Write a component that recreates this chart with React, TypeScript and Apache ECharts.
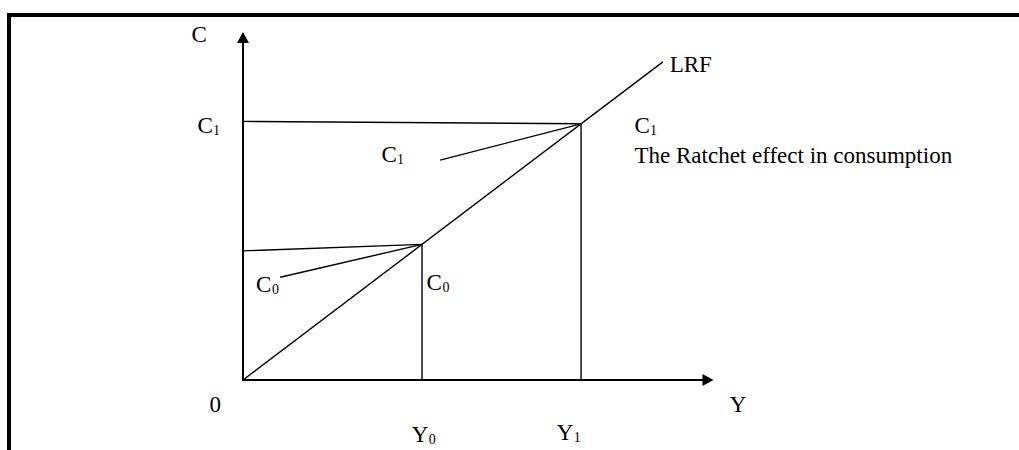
import React, { useEffect, useRef } from "react";
import * as echarts from "echarts";

// Key levels (data units of the diagram)
const incomeLevels = [3.85, 7.27]; // Y0, Y1
const consumptionLevels = [3.96, 7.48]; // C0, C1 on the LRF
const ratchetStartLevels = [3.77, 7.55]; // where the ratchet lines meet the C axis
const shortRunStarts = [
  [0.8, 3.0],
  [4.24, 6.42],
]; // left ends of the short-run C0, C1 lines
const lrfEnd = [9.03, 9.29];

const FONT = '"Liberation Serif", "Times New Roman", serif';

type Label = { main: string; sub?: string; x: number; y: number; subDx?: number };

const labels: Label[] = [
  { main: "C", x: 191.5, y: 34.4 },
  { main: "C", sub: "1", x: 197.5, y: 125.4, subDx: 15.5 },
  { main: "C", sub: "0", x: 256, y: 284.4, subDx: 16 },
  { main: "C", sub: "0", x: 426.5, y: 282.4, subDx: 16 },
  { main: "C", sub: "1", x: 381.5, y: 154.4, subDx: 15.5 },
  { main: "C", sub: "1", x: 634.5, y: 125.4, subDx: 15.5 },
  { main: "The Ratchet effect in consumption", x: 634.5, y: 155.4 },
  { main: "LRF", x: 669.7, y: 64.4 },
  { main: "0", x: 209.5, y: 404.4 },
  { main: "Y", x: 729.8, y: 404.4 },
  { main: "Y", sub: "0", x: 411.8, y: 434.4, subDx: 17 },
  { main: "Y", sub: "1", x: 556.8, y: 432.4, subDx: 17 },
];

function seg(a: number[], b: number[]) {
  return [a, b];
}

export default function App() {
  const ref = useRef<HTMLDivElement>(null);
  useEffect(() => {
    if (!ref.current) return;
    const chart = echarts.init(ref.current, undefined, { renderer: "svg" });
    const [Y0, Y1] = incomeLevels;
    const [C0, C1] = consumptionLevels;
    const segments = [
      seg([0, 0], lrfEnd),
      seg([Y0, 0], [Y0, C0]),
      seg([Y1, 0], [Y1, C1]),
      seg([0, ratchetStartLevels[0]], [Y0, C0]),
      seg([0, ratchetStartLevels[1]], [Y1, C1]),
      seg(shortRunStarts[0], [Y0, C0]),
      seg(shortRunStarts[1], [Y1, C1]),
    ];
    const textEls: any[] = [];
    labels.forEach((l) => {
      textEls.push({
        type: "text",
        x: l.x,
        y: l.y,
        silent: true,
        style: {
          text: l.main,
          fill: "#000",
          fontSize: 23,
          fontFamily: FONT,
          align: "left",
          verticalAlign: "middle",
        },
      });
      if (l.sub) {
        textEls.push({
          type: "text",
          x: l.x + (l.subDx || 15),
          y: l.y + 5,
          silent: true,
          style: {
            text: l.sub,
            fill: "#000",
            fontSize: 14,
            fontFamily: FONT,
            align: "left",
            verticalAlign: "middle",
          },
        });
      }
    });
    chart.setOption({
      animation: false,
      backgroundColor: "#fff",
      grid: { left: 243, top: 37.5, right: 311, bottom: 70, containLabel: false },
      xAxis: {
        type: "value",
        min: 0,
        max: 10,
        axisLine: {
          show: true,
          symbol: ["none", "triangle"],
          symbolSize: [12, 11],
          lineStyle: { color: "#000", width: 2 },
        },
        axisTick: { show: false },
        axisLabel: { show: false },
        splitLine: { show: false },
      },
      yAxis: {
        type: "value",
        min: 0,
        max: 10,
        axisLine: {
          show: true,
          symbol: ["none", "triangle"],
          symbolSize: [12, 11],
          lineStyle: { color: "#000", width: 2 },
        },
        axisTick: { show: false },
        axisLabel: { show: false },
        splitLine: { show: false },
      },
      series: segments.map((d) => ({
        type: "line",
        data: d,
        symbol: "none",
        silent: true,
        lineStyle: { color: "#000", width: 1.4 },
      })),
      graphic: [
        { type: "rect", shape: { x: 7, y: 13, width: 1012, height: 4 }, style: { fill: "#000" }, silent: true },
        { type: "rect", shape: { x: 7, y: 13, width: 4, height: 437 }, style: { fill: "#000" }, silent: true },
        ...textEls,
      ],
    });
    return () => chart.dispose();
  }, []);
  return (
    <div
      ref={ref}
      style={{ position: "absolute", left: 0, top: 0, width: 1019, height: 450 }}
    />
  );
}
